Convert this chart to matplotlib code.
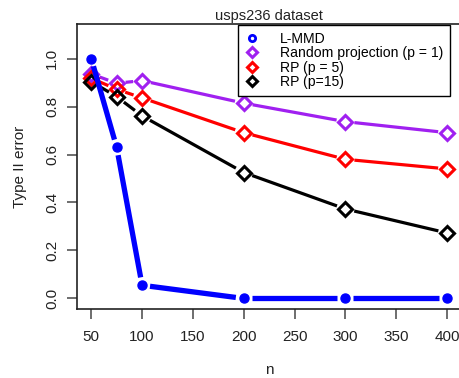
import numpy as np
import matplotlib
matplotlib.use('Agg')
import matplotlib.pyplot as plt
from matplotlib.lines import Line2D

plt.rcParams['font.family'] = ['Liberation Sans', 'DejaVu Sans']

# data
n = [50, 75, 100, 200, 300, 400]
lmmd = [1.0, 0.63, 0.055, 0.0, 0.0, 0.0]
rp1 = [0.936, 0.897, 0.908, 0.814, 0.737, 0.691]
rp5 = [0.918, 0.872, 0.836, 0.691, 0.580, 0.540]
rp15 = [0.904, 0.841, 0.761, 0.525, 0.373, 0.273]

labels = ['L-MMD', 'Random projection (p = 1)', 'RP (p = 5)', 'RP (p=15)']
xticks = [50, 100, 150, 200, 250, 300, 350, 400]
yticks = [0.0, 0.2, 0.4, 0.6, 0.8, 1.0]

fig = plt.figure(figsize=(4.6, 3.78), dpi=100)
ax = fig.add_axes([0.1674, 0.1825, 0.8356, 0.754])
ax.set_xlim(36, 414)
ax.set_ylim(-0.044, 1.144)


def r_type_b(x, y, color, lw, marker, ms, mew, filled, gap, z):
    # like R's type="b": segments stop short of each point
    pts = ax.transData.transform(np.column_stack([x, y]))
    inv = ax.transData.inverted()
    for p0, p1 in zip(pts[:-1], pts[1:]):
        d = p1 - p0
        L = np.hypot(*d)
        if L <= 2 * gap:
            continue
        u = d / L
        a = inv.transform(p0 + u * gap)
        b = inv.transform(p1 - u * gap)
        ax.plot([a[0], b[0]], [a[1], b[1]], color=color, lw=lw,
                solid_capstyle='butt', zorder=z)
    ax.plot(x, y, ls='none', marker=marker, ms=ms, mfc=color if filled else 'none',
            mec=color, mew=mew, zorder=z + 0.2)


r_type_b(n, rp1, '#a020f0', 2.3, 'D', 7, 2.2, False, 9, 2)
r_type_b(n, rp5, 'red', 2.3, 'D', 7, 2.2, False, 9, 3)
r_type_b(n, rp15, 'black', 2.3, 'D', 7, 2.2, False, 9, 4)
r_type_b(n, lmmd, 'blue', 3.8, 'o', 6.5, 1.0, True, 8, 5)

ax.set_xticks(xticks)
ax.set_xticklabels([str(t) for t in xticks])
ax.set_yticks(yticks)
ax.set_yticklabels(['%.1f' % t for t in yticks], rotation=90, va='center')
ax.tick_params(axis='both', labelsize=11, colors='#555555', labelcolor='#222222',
               length=7, width=1.2)
ax.tick_params(axis='x', pad=8)
ax.tick_params(axis='y', pad=6)
for s in ['left', 'bottom', 'top', 'right']:
    ax.spines[s].set_color('#222222')
    ax.spines[s].set_linewidth(1.2)

ax.set_xlabel('n', fontsize=11, color='#222222', labelpad=14)
ax.set_ylabel('Type II error', fontsize=11, color='#222222', labelpad=13)
ax.set_title('usps236 dataset', fontsize=10.5, color='#222222', pad=3)

handles = [
    Line2D([], [], ls='none', marker='o', ms=4.5, mfc='white', mec='blue', mew=2),
    Line2D([], [], ls='none', marker='D', ms=5.5, mfc='white', mec='#a020f0', mew=2.2),
    Line2D([], [], ls='none', marker='D', ms=5.5, mfc='white', mec='red', mew=2.2),
    Line2D([], [], ls='none', marker='D', ms=5.5, mfc='white', mec='black', mew=2.2),
]
leg = ax.legend(handles, labels, loc='upper left', bbox_to_anchor=(0.418, 0.997),
                fontsize=10.1, frameon=True, fancybox=False, handlelength=1.0,
                handletextpad=1.5, labelspacing=0.03, borderpad=0.5,
                borderaxespad=0, framealpha=1)
leg.get_frame().set_edgecolor('black')
leg.get_frame().set_linewidth(1.0)

fig.savefig('out.png', dpi=100)
